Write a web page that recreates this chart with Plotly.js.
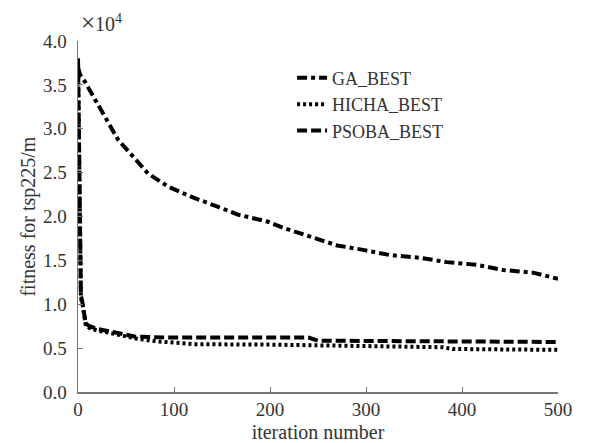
<!DOCTYPE html>
<html>
<head>
<meta charset="utf-8">
<script src="https://cdn.plot.ly/plotly-3.0.1.min.js"></script>
<style>html,body{margin:0;padding:0;background:#fff;}#chart{width:598px;height:443px;}</style>
</head>
<body>
<div id="chart"></div>
<script>
// values in units of 10^4
const gaIter = [0, 2, 7, 18, 31, 42, 56, 73, 94, 119, 146, 167, 179, 198, 214, 242, 270, 297, 325, 356, 384, 415, 443, 474, 500];
const gaBest = [3.70, 3.62, 3.54, 3.33, 3.06, 2.87, 2.70, 2.49, 2.34, 2.22, 2.11, 2.02, 1.99, 1.94, 1.87, 1.77, 1.67, 1.62, 1.56, 1.53, 1.48, 1.45, 1.39, 1.36, 1.29];

const hichaIter = [0, 1, 2, 3, 5, 8, 12, 20, 30, 45, 60, 80, 100, 120, 200, 300, 380, 390, 500];
const hichaBest = [3.80, 3.10, 1.90, 1.08, 0.98, 0.77, 0.73, 0.70, 0.68, 0.64, 0.61, 0.58, 0.56, 0.545, 0.54, 0.52, 0.51, 0.49, 0.48];

const psobaIter = [0, 1, 2, 3, 5, 8, 12, 20, 30, 45, 60, 100, 150, 200, 240, 250, 300, 400, 500];
const psobaBest = [3.80, 3.20, 2.00, 1.10, 1.00, 0.78, 0.75, 0.72, 0.70, 0.66, 0.63, 0.62, 0.62, 0.62, 0.62, 0.585, 0.58, 0.575, 0.57];

const xTicks = [0, 100, 200, 300, 400, 500];
const yTicks = [0, 0.5, 1.0, 1.5, 2.0, 2.5, 3.0, 3.5, 4.0];
const yTickText = ['0.0', '0.5', '1.0', '1.5', '2.0', '2.5', '3.0', '3.5', '4.0'];

const FONT = 'Liberation Serif, Times New Roman, serif';
const TXT = '#333';

const traces = [
  {x: gaIter, y: gaBest, name: 'GA_BEST', mode: 'lines',
   line: {color: '#000', width: 4, dash: '10px,4px,4px,4px'}},
  {x: hichaIter, y: hichaBest, name: 'HICHA_BEST', mode: 'lines',
   line: {color: '#000', width: 4, dash: '3px,3px'}},
  {x: psobaIter, y: psobaBest, name: 'PSOBA_BEST', mode: 'lines',
   line: {color: '#000', width: 4, dash: '10px,4px'}}
];

const layout = {
  width: 598, height: 443,
  margin: {l: 78, r: 40, t: 41, b: 51},
  paper_bgcolor: '#fff', plot_bgcolor: '#fff',
  font: {family: FONT, size: 19, color: TXT},
  showlegend: true,
  legend: {x: 0.446, y: 0.947, xanchor: 'left', yanchor: 'top',
           bgcolor: 'rgba(0,0,0,0)', font: {family: FONT, size: 18, color: TXT}},
  xaxis: {
    range: [0, 500], tickvals: xTicks, ticktext: xTicks.map(String),
    showgrid: false, zeroline: false, showline: true, linecolor: '#777', linewidth: 1.5,
    ticks: 'inside', ticklen: 5, tickcolor: '#777',
    tickfont: {family: FONT, size: 19, color: TXT},
    title: {text: 'iteration number', font: {family: FONT, size: 20, color: TXT}, standoff: 5}
  },
  yaxis: {
    range: [0, 4], tickvals: yTicks, ticktext: yTickText,
    showgrid: false, zeroline: false, showline: true, linecolor: '#777', linewidth: 1.5,
    ticks: 'inside', ticklen: 5, tickcolor: '#777', ticklabelstandoff: 6,
    tickfont: {family: FONT, size: 19, color: TXT}
  },
  annotations: [
    {xref: 'paper', yref: 'paper', x: 0.003, y: 1.054, xanchor: 'left', yanchor: 'middle',
     text: '<span style="font-size:25px">×</span>10<sup>4</sup>', showarrow: false,
     font: {family: FONT, size: 20, color: TXT}},
    {xref: 'paper', yref: 'paper', x: -0.104, y: 0.5, xanchor: 'center', yanchor: 'middle',
     textangle: -90, text: 'fitness for tsp225/m', showarrow: false,
     font: {family: FONT, size: 20, color: TXT}}
  ]
};

Plotly.newPlot('chart', traces, layout, {displayModeBar: false, staticPlot: true});
</script>
</body>
</html>
